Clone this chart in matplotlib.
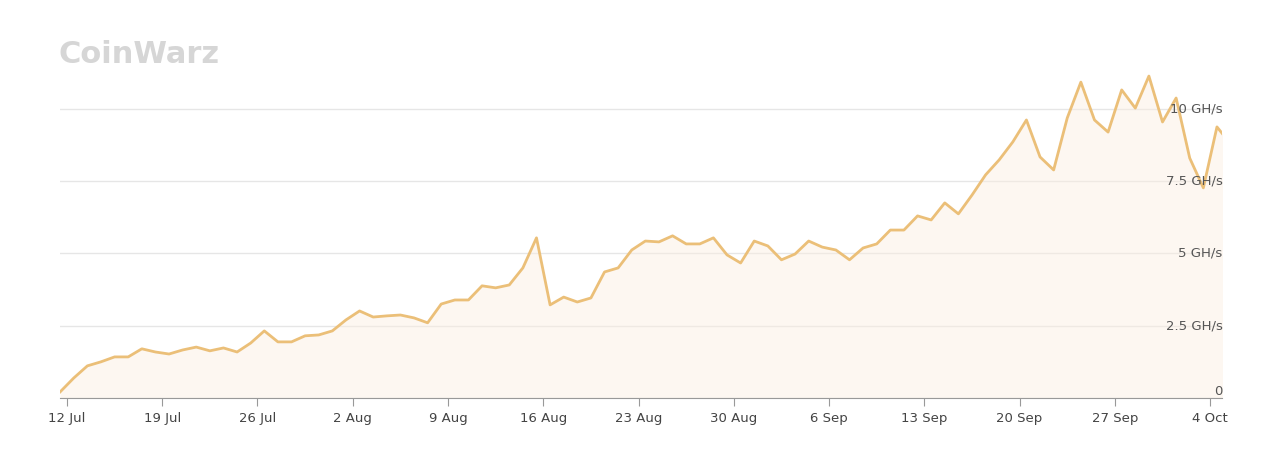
import matplotlib
matplotlib.use("Agg")
import matplotlib.pyplot as plt
import numpy as np

hashrate = [0.21,0.69,1.11,1.25,1.42,1.42,1.70,1.59,1.52,1.66,1.76,1.63,1.73,1.59,1.90,2.32,1.94,1.94,2.15,2.18,
            2.32,2.70,3.01,2.80,2.84,2.87,2.77,2.60,3.25,3.39,3.39,3.88,3.81,3.91,4.50,5.54,3.22,3.49,3.32,3.46,
            4.36,4.50,5.12,5.43,5.40,5.61,5.33,5.33,5.54,4.95,4.67,5.43,5.26,4.78,4.98,5.43,5.22,5.12,4.78,5.19,
            5.33,5.81,5.81,6.30,6.16,6.75,6.37,7.02,7.72,8.24,8.86,9.62,8.34,7.89,9.69,10.93,9.62,9.20,10.66,10.03,
            11.14,9.55,10.38,8.30,7.27,9.38,8.79]
xticklabels = ["12 Jul","19 Jul","26 Jul","2 Aug","9 Aug","16 Aug","23 Aug","30 Aug","6 Sep","13 Sep","20 Sep","27 Sep","4 Oct"]
yticks = [0, 2.5, 5, 7.5, 10]
yticklabels = ["0", "2.5 GH/s", "5 GH/s", "7.5 GH/s", "10 GH/s"]

days = np.arange(len(hashrate)) - 0.5

fig = plt.figure(figsize=(12.8, 4.76), dpi=100)
ax = fig.add_axes([0.047, 0.164, 0.908, 0.689])
line_c = "#ebbf78"
ax.plot(days, hashrate, color=line_c, lw=2)
ax.fill_between(days, hashrate, 0, color="#fbeee0", alpha=0.45, lw=0)
ax.set_xlim(days[0], 84.9)
ax.set_ylim(0, 11.35)
ax.set_yticks(yticks)
ax.yaxis.grid(True, color="#e6e6e6", lw=1)
ax.set_axisbelow(True)
ax.tick_params(axis="y", length=0, labelleft=False)
for v, lab in zip(yticks, yticklabels):
    ax.text(1.0, v, lab, transform=ax.get_yaxis_transform(), ha="right", va="bottom" if v == 0 else "center",
            fontsize=9.5, color="#555555")
ax.set_xticks(np.arange(0, 7 * len(xticklabels), 7))
ax.set_xticklabels(xticklabels, fontsize=9.5, color="#444444")
ax.tick_params(axis="x", length=6, color="#999999", pad=4)
for s in ["top", "right", "left"]:
    ax.spines[s].set_visible(False)
ax.spines["bottom"].set_color("#999999")
fig.text(0.046, 0.885, "CoinWarz", fontsize=22, fontweight="heavy", color="#d6d6d6", ha="left", va="center")
fig.savefig("out.png")
